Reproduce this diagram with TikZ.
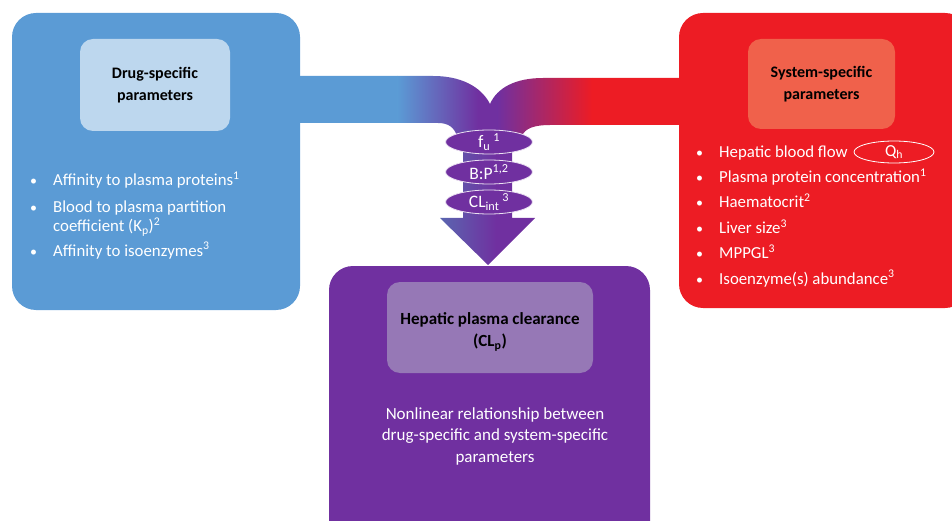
\documentclass[tikz,border=0pt]{standalone}
\usepackage{fontspec}
\setmainfont{Carlito}
\usetikzlibrary{shapes.geometric}
\definecolor{blueC}{HTML}{5B9BD5}
\definecolor{lblueC}{HTML}{BDD7EE}
\definecolor{redC}{HTML}{ED1C24}
\definecolor{lredC}{HTML}{F0614B}
\definecolor{purpC}{HTML}{7030A0}
\definecolor{lpurpC}{HTML}{9678B6}
\definecolor{bpurpC}{HTML}{5A66B0}
\tikzset{
  bigbox/.style={rectangle, rounded corners=24pt, inner sep=0pt},
  innerbox/.style={rectangle, rounded corners=13pt, inner sep=0pt, align=center,
    font=\fontsize{16}{21.5}\selectfont\bfseries, text=black},
  btext/.style={anchor=base west, inner sep=0pt, text=white, font=\fontsize{16.8}{19}\selectfont},
  bdot/.style={anchor=base west, inner sep=0pt, text=white, font=\fontsize{14}{17}\selectfont},
  param/.style={ellipse, fill=purpC, draw=white!85!purpC, line width=0.8pt,
    minimum width=87pt, minimum height=24pt, inner sep=0pt, text=white,
    font=\fontsize{17.5}{18}\selectfont},
}
\begin{document}
\begin{tikzpicture}[x=1pt,y=-1pt]
\useasboundingbox (0,0) rectangle (952,521);
% band
\begin{scope}
\clip (295,76) -- (433,76) .. controls (468,76) and (484,92) .. (490,104)
  .. controls (497,88) and (515,78) .. (543,78) -- (685,78) -- (685,125)
  -- (550,125) .. controls (535,125) and (525,128) .. (522,136) -- (522,142)
  -- (457,142) -- (457,136) .. controls (454,127) and (448,123) .. (438,123)
  -- (295,123) -- cycle;
\fill[blueC] (290,70) rectangle (398,145);
\shade[left color=blueC, right color=purpC] (397.5,70) rectangle (478,145);
\fill[purpC] (477.5,70) rectangle (498,145);
\shade[left color=purpC, right color=redC] (497.5,70) rectangle (592,145);
\fill[redC] (591.5,70) rectangle (690,145);
\end{scope}
% column and arrow head
\begin{scope}
\clip (463,130) -- (512,130) -- (512,218) -- (535,218) -- (488,265) -- (440,218) -- (463,218) -- cycle;
\shade[left color=bpurpC, right color=purpC] (440,125) rectangle (496,270);
\fill[purpC] (495.5,125) rectangle (540,270);
\end{scope}
% boxes
\node[bigbox, fill=blueC, minimum width=288pt, minimum height=297pt] (drug) at (156,161.5) {};
\node[innerbox, fill=lblueC, minimum width=150pt, minimum height=92pt] (drugT) at (155,85) {Drug-specific\\parameters};
\node[bigbox, fill=redC, minimum width=290pt, minimum height=295pt] (sys) at (824,160.5) {};
\node[innerbox, fill=lredC, minimum width=147pt, minimum height=90pt] (sysT) at (821.5,84) {System-specific\\parameters};
\node[bigbox, fill=purpC, minimum width=321pt, minimum height=280pt] (hep) at (489.5,406) {};
\node[innerbox, fill=lpurpC, minimum width=206pt, minimum height=91pt, font=\fontsize{17}{21.5}\selectfont\bfseries] (hepT) at (490,327.5) {};
\node[align=center, inner sep=0pt, text=black, font=\fontsize{17}{21.5}\selectfont\bfseries] (hepL) at (490,332) {Hepatic plasma clearance\\(CL\textsubscript{p})};
\node[align=center, text=white, inner sep=0pt, font=\fontsize{17}{21.5}\selectfont] (nl) at (495,436) {Nonlinear relationship between\\drug-specific and system-specific\\parameters};
% ellipses
\node[param] (fu) at (489,142) {f\textsubscript{u}\,\textsuperscript{1}};
\node[param] (bp) at (489,172) {B:P\textsuperscript{1,2}};
\node[param] (cl) at (489,202) {CL\textsubscript{int}\,\textsuperscript{3}};
% left bullets
\node[bdot] (lb1) at (30,186) {•};
\node[btext] (l1) at (53,186) {Affinity to plasma proteins\textsuperscript{1}};
\node[bdot] (lb2) at (30,213) {•};
\node[btext] (l2) at (53,213) {Blood to plasma partition};
\node[btext] (l2b) at (53,232) {coefficient (K\textsubscript{p})\textsuperscript{2}};
\node[bdot] (lb3) at (30,256) {•};
\node[btext] (l3) at (53,256) {Affinity to isoenzymes\textsuperscript{3}};
% right bullets
\node[bdot] (rb1) at (696,157.5) {•};
\node[btext] (r1) at (719,157.5) {Hepatic blood flow};
\node[ellipse, draw=white, line width=0.8pt, minimum width=80pt, minimum height=22pt, inner sep=0pt, text=white, font=\fontsize{16.8}{17}\selectfont] (qh) at (894,152) {Q\textsubscript{h}};
\node[bdot] (rb2) at (696,183) {•};
\node[btext] (r2) at (719,183) {Plasma protein concentration\textsuperscript{1}};
\node[bdot] (rb3) at (696,208) {•};
\node[btext] (r3) at (719,208) {Haematocrit\textsuperscript{2}};
\node[bdot] (rb4) at (696,233.5) {•};
\node[btext] (r4) at (719,233.5) {Liver size\textsuperscript{3}};
\node[bdot] (rb5) at (696,258.5) {•};
\node[btext] (r5) at (719,258.5) {MPPGL\textsuperscript{3}};
\node[bdot] (rb6) at (696,284) {•};
\node[btext] (r6) at (719,284) {Isoenzyme(s) abundance\textsuperscript{3}};
\end{tikzpicture}
\end{document}
